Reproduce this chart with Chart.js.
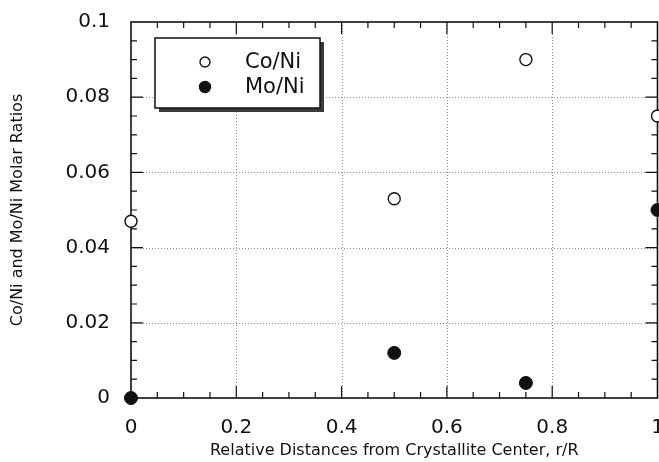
<!DOCTYPE html>
<html>
<head>
<meta charset="utf-8">
<script src="https://cdn.jsdelivr.net/npm/chart.js@4/dist/chart.umd.min.js"></script>
<style>
  html, body { margin: 0; padding: 0; background: #fff; overflow: hidden; }
  /* slightly wider than the window so the plot box reaches the right border */
  #wrap { width: 665px; height: 462px; }
  canvas { display: block; }
</style>
</head>
<body>
<div id="wrap"><canvas id="chart"></canvas></div>
<script>
/* ── Data ── */
const rOverR      = [0, 0.5, 0.75, 1];
const coNi        = [0.047, 0.053, 0.090, 0.075];
const moNi        = [0, 0.012, 0.004, 0.050];
const seriesNames = ['Co/Ni', 'Mo/Ni'];
const xTickLabels = ['0', '0.2', '0.4', '0.6', '0.8', '1'];
const yTickLabels = ['0', '0.02', '0.04', '0.06', '0.08', '0.1'];

const FONT = "'DejaVu Sans', Arial, Helvetica, sans-serif";
const INK  = '#111';

const toPoints = ys => rOverR.map((x, i) => ({ x, y: ys[i] }));

// ignore tick-label overhang when laying out the plot box
const noOverhang = s => {
    s.paddingLeft = s.paddingRight = s.paddingTop = s.paddingBottom = 0;
    s.getPadding = () => ({ left: 0, top: 0, right: 0, bottom: 0 });
};

/* ── Frame, dotted grid and inward ticks on all four sides ── */
const framePlugin = {
    id: 'frame',
    beforeDatasetsDraw(chart) {
        const { ctx, chartArea: a, scales: { x, y } } = chart;
        ctx.save();

        // dotted grid at the inner major ticks
        ctx.strokeStyle = '#8c8c8c';
        ctx.lineWidth = 1;
        ctx.setLineDash([1, 2]);
        ctx.beginPath();
        x.ticks.slice(1, -1).forEach(t => {
            const px = Math.round(x.getPixelForValue(t.value)) + 0.5;
            ctx.moveTo(px, a.top); ctx.lineTo(px, a.bottom);
        });
        y.ticks.slice(1, -1).forEach(t => {
            const py = Math.round(y.getPixelForValue(t.value)) + 0.5;
            ctx.moveTo(a.left, py); ctx.lineTo(a.right, py);
        });
        ctx.stroke();
        ctx.setLineDash([]);

        // ticks
        ctx.strokeStyle = INK;
        ctx.lineWidth = 1.2;
        ctx.beginPath();
        for (let i = 1; i < 20; i++) {
            const len = i % 4 === 0 ? 12 : 6;
            const px = x.getPixelForValue(i * 0.05);
            ctx.moveTo(px, a.bottom); ctx.lineTo(px, a.bottom - len);
            ctx.moveTo(px, a.top);    ctx.lineTo(px, a.top + len);
            const py = y.getPixelForValue(i * 0.005);
            ctx.moveTo(a.left, py);  ctx.lineTo(a.left + len, py);
            ctx.moveTo(a.right, py); ctx.lineTo(a.right - len, py);
        }
        ctx.stroke();

        // axis frame
        ctx.lineWidth = 1.6;
        ctx.strokeRect(a.left, a.top, a.right - a.left, a.bottom - a.top);
        ctx.restore();
    }
};

/* ── Boxed legend with drop shadow ── */
const legendPlugin = {
    id: 'boxLegend',
    afterDatasetsDraw(chart) {
        const { ctx, chartArea: a } = chart;
        const bx = a.left + 24, by = a.top + 16, bw = 165, bh = 70;
        ctx.save();
        ctx.fillStyle = '#3a3a3a';
        ctx.fillRect(bx + 4, by + 4, bw, bh);
        ctx.fillStyle = '#fff';
        ctx.fillRect(bx, by, bw, bh);
        ctx.strokeStyle = INK;
        ctx.lineWidth = 1.5;
        ctx.strokeRect(bx, by, bw, bh);

        ctx.font = '21px ' + FONT;
        ctx.textBaseline = 'middle';
        chart.data.datasets.forEach((ds, i) => {
            const cy = by + 24 + i * 25;
            ctx.beginPath();
            ctx.arc(bx + 50, cy, ds.pointRadius - 1, 0, Math.PI * 2);
            ctx.fillStyle = ds.pointBackgroundColor;
            ctx.fill();
            ctx.lineWidth = 1.4;
            ctx.strokeStyle = INK;
            ctx.stroke();
            ctx.fillStyle = INK;
            ctx.fillText(ds.label, bx + 90, cy + 1);
        });
        ctx.restore();
    }
};

new Chart(document.getElementById('chart'), {
    type: 'scatter',
    data: {
        datasets: [
            {
                label: seriesNames[0], data: toPoints(coNi),
                pointRadius: 6, pointHoverRadius: 6, pointBorderWidth: 1.4,
                pointBackgroundColor: '#fff', pointBorderColor: INK, clip: false
            },
            {
                label: seriesNames[1], data: toPoints(moNi),
                pointRadius: 6.5, pointHoverRadius: 6.5, pointBorderWidth: 1,
                pointBackgroundColor: INK, pointBorderColor: INK, clip: false
            }
        ]
    },
    options: {
        responsive: true, maintainAspectRatio: false, animation: false,
        layout: { padding: { top: 22, right: 0, left: 0, bottom: 0 } },
        plugins: { legend: { display: false }, tooltip: { enabled: false } },
        scales: {
            x: {
                type: 'linear', min: 0, max: 1,
                afterFit: s => { s.height = 64; noOverhang(s); },
                grid: { display: false, drawTicks: false, tickLength: 0 }, border: { display: false },
                ticks: {
                    stepSize: 0.2, padding: 18, color: INK, maxRotation: 0,
                    font: { family: FONT, size: 20 },
                    callback: (v, i) => xTickLabels[i]
                },
                title: {
                    display: true, text: 'Relative Distances from Crystallite Center, r/R',
                    color: INK, font: { family: FONT, size: 16 }, padding: { top: 0, bottom: 2 }
                }
            },
            y: {
                type: 'linear', min: 0, max: 0.1,
                afterFit: s => { s.width = 131; noOverhang(s); },
                grid: { display: false, drawTicks: false, tickLength: 0 }, border: { display: false },
                ticks: {
                    stepSize: 0.02, padding: 21, color: INK,
                    font: { family: FONT, size: 20 },
                    callback: (v, i) => yTickLabels[i]
                },
                title: {
                    display: true, text: 'Co/Ni and Mo/Ni Molar Ratios',
                    color: INK, font: { family: FONT, size: 16 }, padding: { top: 8, bottom: 0 }
                }
            }
        }
    },
    plugins: [framePlugin, legendPlugin]
});
</script>
</body>
</html>
